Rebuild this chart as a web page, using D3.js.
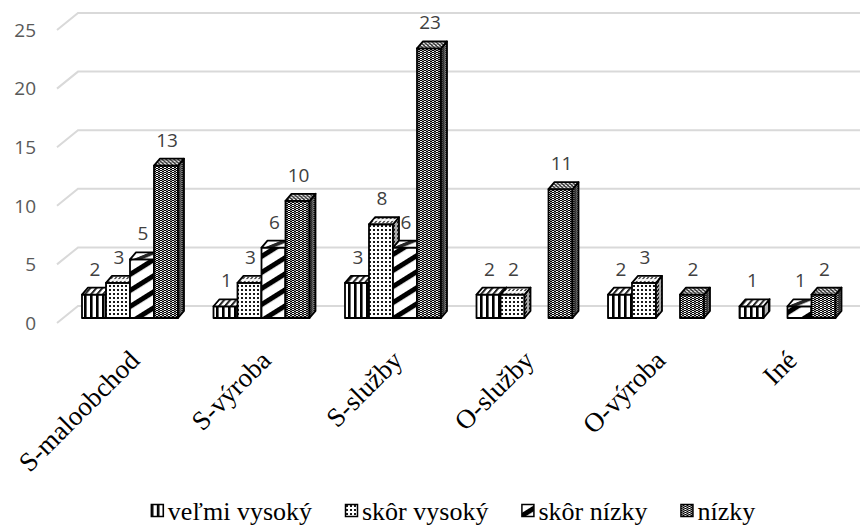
<!DOCTYPE html>
<html>
<head>
<meta charset="utf-8">
<script src="https://cdn.jsdelivr.net/npm/d3@7"></script>
<style>
  html, body { margin: 0; padding: 0; background: #fff; }
  svg { display: block; }
</style>
</head>
<body>
<svg id="chart" width="860" height="527"></svg>
<script>
// Categories, series and values
const categories = ["S-maloobchod", "S-výroba", "S-služby", "O-služby", "O-výroba", "Iné"];
const seriesNames = ["veľmi vysoký", "skôr vysoký", "skôr nízky", "nízky"];
const velmiVysoky = [2, 1, 3, 2, 2, 1];
const skorVysoky  = [3, 3, 8, 2, 3, 0];
const skorNizky   = [5, 6, 6, 0, 0, 1];
const nizky       = [13, 10, 23, 11, 2, 2];
const yTickValues = [0, 5, 10, 15, 20, 25];

const seriesValues = [velmiVysoky, skorVysoky, skorNizky, nizky];

const SERIF = "'Liberation Serif'";
const SANS = "'Open Sans'";

const W = 860, H = 527;
const svg = d3.select("#chart");

// Front plane of the plot and the perspective offset to the back wall
const wallDX = 21, wallDY = -17;
// Bars stand a little behind the front edge of the floor
const barShiftY = -5;
// Depth of every column
const depthDX = 6, depthDY = -7;

const y = d3.scaleLinear().domain([0, 25]).range([323, 30]);
const x0 = d3.scaleBand().domain(categories).range([64.25, 853.25])
  .paddingInner(0.27).paddingOuter(0.135);
const x1 = d3.scaleBand().domain(seriesNames).range([0, x0.bandwidth()]);

// ---------- fill patterns ----------
const defs = svg.append("defs");

function makePattern(id, w, h, draw, transform) {
  const p = defs.append("pattern")
    .attr("id", id)
    .attr("patternUnits", "userSpaceOnUse")
    .attr("width", w).attr("height", h);
  if (transform) p.attr("patternTransform", transform);
  p.append("rect").attr("width", w).attr("height", h).attr("fill", "#fff");
  draw(p);
  return p;
}

const skewTop = `skewX(${Math.atan2(depthDX, -depthDY) * -180 / Math.PI})`;
const skewSide = `skewY(${Math.atan2(depthDY, depthDX) * 180 / Math.PI})`;

const patternDefs = [
  { // vertical stripes
    w: 6, h: 6,
    draw: p => p.append("rect").attr("x", 0).attr("width", 2.6).attr("height", 6).attr("fill", "#000")
  },
  { // small dotted grid
    w: 4, h: 4,
    draw: p => p.append("rect").attr("x", 1).attr("y", 1).attr("width", 2).attr("height", 2).attr("fill", "#1a1a1a")
  },
  { // wide upward diagonal
    w: 14, h: 13.6,
    draw: p => p.append("rect").attr("x", 0).attr("y", 0).attr("width", 14).attr("height", 5).attr("fill", "#000"),
    base: "rotate(-32)"
  },
  { // dark checker
    w: 4, h: 2,
    draw: p => {
      p.append("rect").attr("x", 0).attr("y", 0).attr("width", 2).attr("height", 1).attr("fill", "#000");
      p.append("rect").attr("x", 2).attr("y", 1).attr("width", 2).attr("height", 1).attr("fill", "#000");
      p.append("rect").attr("x", 2).attr("y", 0).attr("width", 2).attr("height", 1).attr("fill", "#9a9a9a");
    }
  }
];

patternDefs.forEach((d, i) => {
  const base = d.base || "";
  makePattern(`pf${i}`, d.w, d.h, d.draw, base || null);
  makePattern(`pt${i}`, d.w, d.h, d.draw, `${skewTop} ${base}`);
  makePattern(`ps${i}`, d.w, d.h, d.draw, `${skewSide} ${base}`);
});

// ---------- gridlines (floor edge + back wall) ----------
const grid = svg.append("g").attr("class", "grid");
yTickValues.forEach(t => {
  const yf = y(t);
  grid.append("path")
    .attr("d", `M57,${yf} L${57 + wallDX},${yf + wallDY} L${W},${yf + wallDY}`)
    .attr("fill", "none")
    .attr("stroke", "#d9d9d9")
    .attr("stroke-width", 2);
});

// ---------- value axis labels ----------
svg.append("g").selectAll("text")
  .data(yTickValues)
  .join("text")
  .style("font-family", SANS)
  .style("font-size", "19px")
  .attr("x", 36)
  .attr("y", d => y(d))
  .attr("dy", "0.36em")
  .attr("text-anchor", "end")
  .attr("fill", "#595959")
  .text(d => d);

// ---------- 3D columns ----------
const bars = svg.append("g").attr("class", "bars");
const labels = [];
const faceStroke = sel => sel.attr("stroke", "#000").attr("stroke-width", 1.8).attr("stroke-linejoin", "round");
categories.forEach((cat, ci) => {
  seriesNames.forEach((s, si) => {
    const v = seriesValues[si][ci];
    if (!v) return;
    const xl = x0(cat) + x1(s);
    const xr = xl + x1.bandwidth();
    const yb = y(0) + barShiftY;
    const yt = y(v) + barShiftY;
    const g = bars.append("g");
    const sidePath = `M${xr},${yt} L${xr + depthDX},${yt + depthDY} L${xr + depthDX},${yb + depthDY} L${xr},${yb} Z`;
    const topPath = `M${xl},${yt} L${xr},${yt} L${xr + depthDX},${yt + depthDY} L${xl + depthDX},${yt + depthDY} Z`;
    g.append("rect")
      .attr("x", xl).attr("y", yt)
      .attr("width", xr - xl).attr("height", yb - yt)
      .attr("fill", `url(#pf${si})`).call(faceStroke);
    g.append("path").attr("d", sidePath).attr("fill", `url(#ps${si})`);
    g.append("path").attr("d", sidePath).attr("fill", "#000").attr("fill-opacity", 0.3).call(faceStroke);
    g.append("path").attr("d", topPath).attr("fill", `url(#pt${si})`);
    g.append("path").attr("d", topPath).attr("fill", "#fff").attr("fill-opacity", 0.15).call(faceStroke);
    labels.push({ x: (xl + xr) / 2 + 1, y: yt - 19, v });
  });
});

// ---------- data labels ----------
svg.append("g").selectAll("text")
  .data(labels)
  .join("text")
  .style("font-family", SANS)
  .style("font-size", "19px")
  .attr("x", d => d.x)
  .attr("y", d => d.y)
  .attr("text-anchor", "middle")
  .attr("fill", "#404040")
  .text(d => d.v);

// ---------- category axis labels ----------
svg.append("g").selectAll("text")
  .data(categories)
  .join("text")
  .style("font-family", SERIF)
  .style("font-size", "27px")
  .attr("transform", d => `translate(${x0(d) + x0.bandwidth() / 2 + 11},362) rotate(-45)`)
  .attr("text-anchor", "end")
  .attr("fill", "#000")
  .text(d => d);

// ---------- legend ----------
const legend = svg.append("g").attr("class", "legend");
const legendY = 520, markerSize = 13, markerGap = 4, itemGap = 33;
const items = seriesNames.map((name, i) => {
  const g = legend.append("g");
  const t = g.append("text")
    .style("font-family", SERIF)
    .style("font-size", "26px")
    .attr("x", markerSize + markerGap).attr("y", legendY)
    .attr("fill", "#000")
    .text(name);
  g.append("rect")
    .attr("x", 0.5).attr("y", legendY - 15.5)
    .attr("width", markerSize - 1).attr("height", markerSize - 1)
    .attr("fill", `url(#pf${i})`)
    .attr("stroke", "#000").attr("stroke-width", 1.5);
  return { g, w: markerSize + markerGap + t.node().getComputedTextLength() };
});
// second marker sits at x = 345; the rest follow with equal spacing
let lx = 345 - (items[0].w + itemGap);
items.forEach(it => {
  it.g.attr("transform", `translate(${lx},0)`);
  lx += it.w + itemGap;
});
</script>
</body>
</html>
